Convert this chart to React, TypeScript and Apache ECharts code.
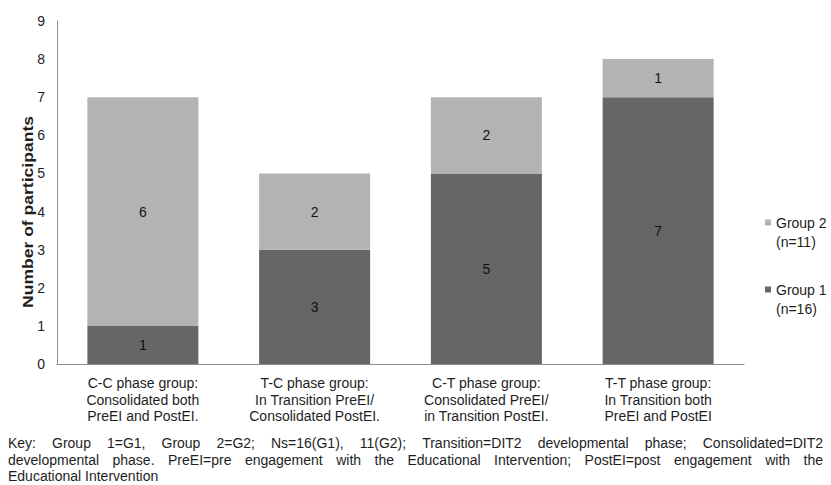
import React, { useEffect, useRef } from "react";
import * as echarts from "echarts";

const categories = [
  "C-C phase group:\nConsolidated both\nPreEI and PostEI.",
  "T-C phase group:\nIn Transition PreEI/\nConsolidated PostEI.",
  "C-T phase group:\nConsolidated PreEI/\nin Transition PostEI.",
  "T-T phase group:\nIn Transition both\nPreEI and PostEI",
];
const group1Values = [1, 3, 5, 7];
const group2Values = [6, 2, 2, 1];
const seriesNames = ["Group 1 (n=16)", "Group 2 (n=11)"];
const yAxisTitle = "Number of participants";
const noteLines = [
  "Key: Group 1=G1, Group 2=G2; Ns=16(G1), 11(G2); Transition=DIT2 developmental phase; Consolidated=DIT2",
  "developmental phase.  PreEI=pre engagement with the Educational Intervention; PostEI=post engagement with the",
  "Educational Intervention",
];
const noteJustify = [true, true, false];

const FONT = '"Liberation Sans", Arial, sans-serif';
const TXT = "#1e1e1e";

export default function App() {
  const ref = useRef<HTMLDivElement>(null);
  useEffect(() => {
    if (!ref.current) return;
    const chart = echarts.init(ref.current, null, { renderer: "svg" });

    const canvas = document.createElement("canvas");
    const ctx = canvas.getContext("2d")!;
    const noteFontSize = 14;
    ctx.font = `${noteFontSize}px "Liberation Sans"`;
    const noteLeft = 8;
    const noteWidth = 815;
    const noteTop = 443;
    const noteLineH = 16.5;
    const graphics: any[] = [];
    noteLines.forEach((line, li) => {
      const y = noteTop + li * noteLineH;
      if (!noteJustify[li]) {
        graphics.push({
          type: "text",
          x: noteLeft,
          y,
          style: { text: line, font: `${noteFontSize}px ${FONT}`, fill: TXT, verticalAlign: "middle" },
        });
        return;
      }
      const words = line.split(/\s+/);
      const widths = words.map((w) => ctx.measureText(w).width);
      const total = widths.reduce((a, b) => a + b, 0);
      const gap = (noteWidth - total) / (words.length - 1);
      let x = noteLeft;
      words.forEach((w, i) => {
        graphics.push({
          type: "text",
          x,
          y,
          style: { text: w, font: `${noteFontSize}px ${FONT}`, fill: TXT, verticalAlign: "middle" },
        });
        x += widths[i] + gap;
      });
    });
    graphics.push({
      type: "text",
      x: 27,
      y: 212,
      rotation: Math.PI / 2,
      scaleX: 1.17,
      style: {
        text: yAxisTitle,
        font: `bold 15px ${FONT}`,
        fill: TXT,
        align: "center",
        verticalAlign: "middle",
      },
    });

    chart.setOption({
      animation: false,
      textStyle: { fontFamily: FONT },
      grid: { left: 57, right: 87, top: 21, bottom: 121, containLabel: false },
      legend: {
        orient: "vertical",
        left: 765,
        top: 194,
        padding: 0,
        itemWidth: 6,
        itemHeight: 6,
        itemGap: 10,
        icon: "rect",
        data: [seriesNames[1], seriesNames[0]],
        formatter: (name: string) => " \n" + name.replace(" (", "\n("),
        textStyle: { fontSize: 14, color: TXT, lineHeight: 19, fontFamily: FONT },
      },
      xAxis: {
        type: "category",
        data: categories,
        axisLine: { lineStyle: { color: "#8c8c8c", width: 1 } },
        axisTick: { show: false },
        axisLabel: { fontSize: 14, color: TXT, lineHeight: 16.5, margin: 11, interval: 0, fontFamily: FONT },
      },
      yAxis: {
        type: "value",
        min: 0,
        max: 9,
        interval: 1,
        axisLine: { show: true, lineStyle: { color: "#8c8c8c", width: 1 } },
        axisTick: { show: false },
        splitLine: { show: false },
        axisLabel: { fontSize: 14, color: TXT, margin: 12, fontFamily: FONT },
      },
      series: [
        {
          name: seriesNames[0],
          type: "bar",
          stack: "total",
          barWidth: 111,
          data: group1Values,
          itemStyle: { color: "#666666" },
          label: { show: true, position: "inside", color: "#111", fontSize: 14, fontFamily: FONT },
        },
        {
          name: seriesNames[1],
          type: "bar",
          stack: "total",
          barWidth: 111,
          data: group2Values,
          itemStyle: { color: "#b3b3b3" },
          label: { show: true, position: "inside", color: "#111", fontSize: 14, fontFamily: FONT },
        },
      ],
      graphic: graphics,
    });
    return () => chart.dispose();
  }, []);
  return (
    <div
      ref={ref}
      style={{ position: "absolute", left: 0, top: 0, width: 831, height: 485, background: "#fff" }}
    />
  );
}
